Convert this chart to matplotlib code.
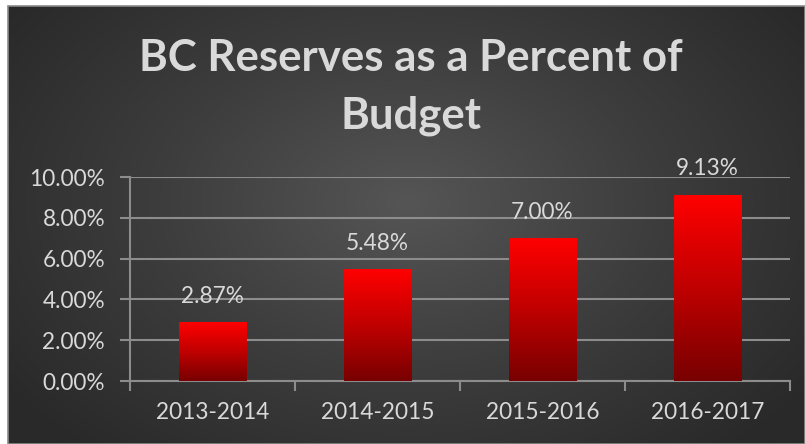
import numpy as np
import matplotlib
matplotlib.use("Agg")
import matplotlib.pyplot as plt
from matplotlib.colors import LinearSegmentedColormap

categories = ["2013-2014", "2014-2015", "2015-2016", "2016-2017"]
values = [2.87, 5.48, 7.00, 9.13]
value_labels = ["2.87%", "5.48%", "7.00%", "9.13%"]
yticks = [0, 2, 4, 6, 8, 10]
ytick_labels = ["0.00%", "2.00%", "4.00%", "6.00%", "8.00%", "10.00%"]
title = "BC Reserves as a Percent of\nBudget"

W, H = 805, 444
fig = plt.figure(figsize=(W / 100, H / 100), dpi=100)
fig.patch.set_facecolor("white")

# background panel with radial gradient
bx0, by0 = 8 / W, 0
bw, bh = (W - 8) / W, (H - 6) / H
bg = fig.add_axes([bx0, by0, bw, bh])
bg.set_axis_off()
ny, nx = 300, 540
yy, xx = np.mgrid[0:ny, 0:nx]
cx, cy = nx * 0.5, ny * 0.45
r = np.sqrt(((xx - cx) / (nx * 0.62)) ** 2 + ((yy - cy) / (ny * 0.75)) ** 2)
r = np.clip(r, 0, 1)
bg_cmap = LinearSegmentedColormap.from_list("bg", ["#555555", "#3d3d3d", "#292929"])
bg.imshow(r, cmap=bg_cmap, aspect="auto", extent=[0, 1, 0, 1], vmin=0, vmax=1)
bg.set_xlim(0, 1)
bg.set_ylim(0, 1)
fig.add_artist(plt.Rectangle((bx0, by0), bw, bh, transform=fig.transFigure,
                             fill=False, edgecolor="#8a8a8a", lw=1.2))

fam = ["Lato", "DejaVu Sans"]
txtc = "#d9d9d9"
fs = 16.3

ax = fig.add_axes([130 / W, 63 / H, 660 / W, 204 / H])
ax.patch.set_alpha(0)

x = np.arange(len(categories))
bar_cmap = LinearSegmentedColormap.from_list("bar", ["#780000", "#c00000", "#ff0000"])
grad = np.linspace(0, 1, 256).reshape(-1, 1)
bars = ax.bar(x, values, width=0.41, color="none", edgecolor="none", zorder=3)
for b in bars:
    x0, y0 = b.get_x(), b.get_y()
    im = ax.imshow(grad, cmap=bar_cmap, aspect="auto", origin="lower",
                   extent=[x0, x0 + b.get_width(), y0, y0 + b.get_height()],
                   zorder=3)
    im.set_clip_path(b)
ax.set_xlim(-0.5, len(categories) - 0.5)
ax.set_ylim(0, 10)

for xi, v, lab in zip(x, values, value_labels):
    ax.text(xi, v + 0.75, lab, ha="center", va="bottom", color=txtc,
            fontsize=fs, family=fam, zorder=4)

gc = "#8c8c8c"
ax.set_yticks(yticks)
ax.set_yticklabels(ytick_labels, family=fam, fontsize=fs, color=txtc)
ax.yaxis.grid(True, color=gc, lw=1.5, zorder=1)
ax.set_axisbelow(True)
ax.set_xticks(x)
ax.set_xticklabels(categories, family=fam, fontsize=fs, color=txtc)
ax.set_xticks(np.arange(-0.5, len(categories)), minor=True)
ax.tick_params(axis="x", which="major", length=0, pad=15)
ax.tick_params(axis="x", which="minor", length=7, color=gc, width=1.5)
ax.tick_params(axis="y", length=7, color=gc, width=1.5, pad=11)
for side in ["top", "right"]:
    ax.spines[side].set_visible(False)
for side in ["left", "bottom"]:
    ax.spines[side].set_color(gc)
    ax.spines[side].set_linewidth(1.5)

fig.text(0.5 + 8 / W, 1 - 87 / H, title, ha="center", va="center",
         color="#d9d9d9", fontsize=31.5, fontweight="bold", family=fam,
         linespacing=1.55)

fig.savefig("out.png", dpi=100, facecolor=fig.get_facecolor())
